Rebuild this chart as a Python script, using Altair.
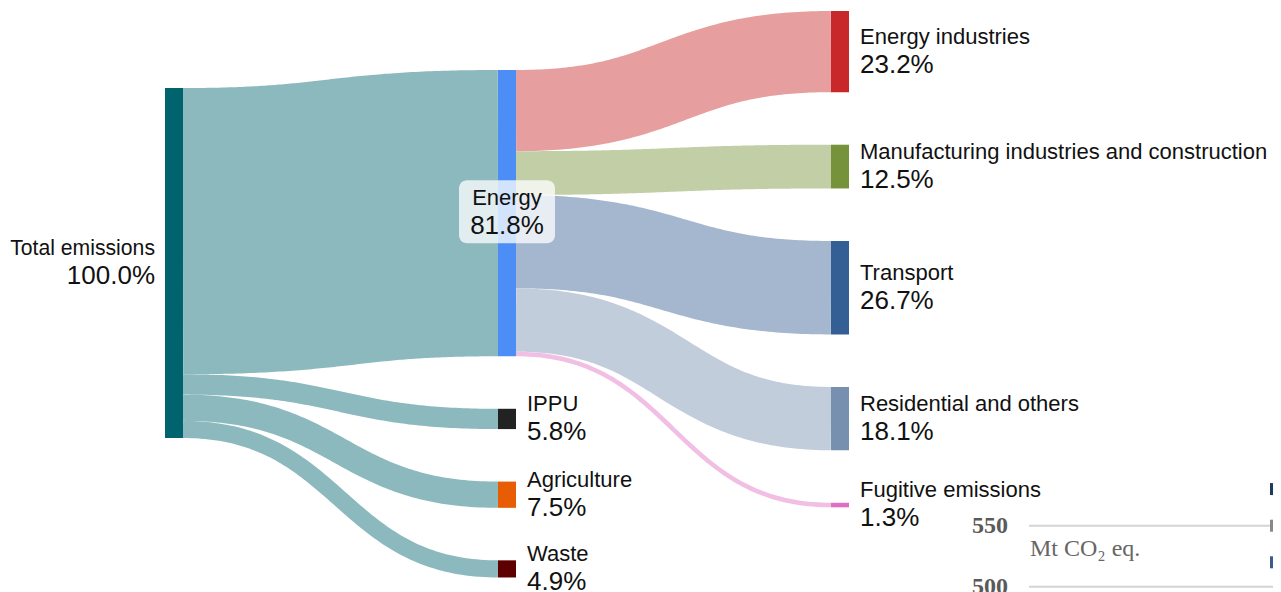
import altair as alt
import pandas as pd
import numpy as np

# ---------------- data ----------------
node_names = ["Total emissions", "Energy", "IPPU", "Agriculture", "Waste",
              "Energy industries", "Manufacturing industries and construction",
              "Transport", "Residential and others", "Fugitive emissions"]
node_values = [100.0, 81.8, 5.8, 7.5, 4.9, 23.2, 12.5, 26.7, 18.1, 1.3]

link_sources = ["Total emissions"] * 4 + ["Energy"] * 5
link_targets = ["Energy", "IPPU", "Agriculture", "Waste",
                "Energy industries", "Manufacturing industries and construction",
                "Transport", "Residential and others", "Fugitive emissions"]
link_values = [81.8, 5.8, 7.5, 4.9, 23.2, 12.5, 26.7, 18.1, 1.3]

# cropped neighbouring chart (bottom right)
grid_ticks = [550, 500]
unit_label = "Mt CO\u2082 eq."
swatch_levels = [580, 550, 520]

# ---------------- styles / layout ----------------
W, H = 1265, 584
PX = 3.5                      # pixels per percentage point
Y_MAX = H / PX
LEFT, STEP, NODE_W = 157, 333, 18
GAP = 15.0
COL_TOP = {0: 22.86, 1: 17.71, 2: 0.86}
FONT = "Liberation Sans"
NAME_SIZE, PCT_SIZE = 22, 26

node_colors = {
    "Total emissions": "#00636e", "Energy": "#4c8ef5", "IPPU": "#222222",
    "Agriculture": "#e85d04", "Waste": "#5e0000", "Energy industries": "#c8282a",
    "Manufacturing industries and construction": "#76923a", "Transport": "#345f94",
    "Residential and others": "#7890b0", "Fugitive emissions": "#e06fc4",
}
swatch_colors = ["#1c3a5e", "#888888", "#3b5b8c"]
LINK_ALPHA = 0.45


def blend(hexcol, a):
    r, g, b = (int(hexcol[i:i + 2], 16) for i in (1, 3, 5))
    return "#%02x%02x%02x" % tuple(round(255 - a * (255 - c)) for c in (r, g, b))


# columns
col = {n: 0 for n in node_names if n not in link_targets}
for s, t in zip(link_sources, link_targets):
    col[t] = col[s] + 1

# node positions
cursor = dict(COL_TOP)
y0, nx = {}, {}
for n, v in zip(node_names, node_values):
    c = col[n]
    y0[n] = cursor[c]
    cursor[c] += v + GAP
    nx[n] = LEFT + STEP * c

nodes_df = pd.DataFrame({
    "name": node_names,
    "value": node_values,
    "x": [nx[n] for n in node_names],
    "x2": [nx[n] + NODE_W for n in node_names],
    "y": [y0[n] for n in node_names],
    "y2": [y0[n] + v for n, v in zip(node_names, node_values)],
    "color": [node_colors[n] for n in node_names],
})
nodes_df["cy"] = (nodes_df["y"] + nodes_df["y2"]) / 2
nodes_df["pct"] = [f"{v:.1f}%" for v in node_values]

# link curves (d3-sankey style horizontal bezier, drawn as thick strokes)
out_off = {n: 0.0 for n in node_names}
in_off = {n: 0.0 for n in node_names}
rows = []
ts = np.linspace(0, 1, 101)
for i, (s, t, v) in enumerate(zip(link_sources, link_targets, link_values)):
    ys = y0[s] + out_off[s] + v / 2
    out_off[s] += v
    yt = y0[t] + in_off[t] + v / 2
    in_off[t] += v
    xa, xb = nx[s] + NODE_W, nx[t]
    xm = (xa + xb) / 2
    colr = blend(node_colors[s] if col[s] == 0 else node_colors[t], LINK_ALPHA)
    for k, tt in enumerate(ts):
        u = 1 - tt
        x = u ** 3 * xa + 3 * u * u * tt * xm + 3 * u * tt * tt * xm + tt ** 3 * xb
        y = ys * (u ** 3 + 3 * u * u * tt) + yt * (3 * u * tt * tt + tt ** 3)
        rows.append({"link": i, "k": k, "x": x, "y": y, "value": v, "color": colr})
links_df = pd.DataFrame(rows)

xs = alt.Scale(domain=[0, W], range=[0, W])
ysc = alt.Scale(domain=[0, Y_MAX], reverse=True)

links = alt.Chart(links_df).mark_line(strokeCap="butt").encode(
    x=alt.X("x:Q", scale=xs, axis=None),
    y=alt.Y("y:Q", scale=ysc, axis=None),
    size=alt.Size("value:Q", scale=alt.Scale(domain=[0, Y_MAX], range=[0, H]), legend=None),
    color=alt.Color("color:N", scale=None),
    detail="link:N",
    order="k:Q",
)

node_rects = alt.Chart(nodes_df).mark_rect().encode(
    x=alt.X("x:Q", scale=xs, axis=None), x2="x2:Q",
    y=alt.Y("y:Q", scale=ysc, axis=None), y2="y2:Q",
    color=alt.Color("color:N", scale=None),
)

has_out = set(link_sources)
has_in = set(link_targets)
left_df = nodes_df[[n not in has_in for n in node_names]].copy()
left_df["lx"] = left_df["x"] - 10
right_df = nodes_df[[n not in has_out for n in node_names]].copy()
right_df["lx"] = right_df["x2"] + 11
mid_df = nodes_df[[(n in has_in and n in has_out) for n in node_names]].copy()
mid_df["lx"] = (mid_df["x"] + mid_df["x2"]) / 2
mid_df["bx"] = mid_df["lx"] - 48
mid_df["bx2"] = mid_df["lx"] + 48
mid_df["by"] = mid_df["cy"] - 33 / PX
mid_df["by2"] = mid_df["cy"] + 30 / PX

box = alt.Chart(mid_df).mark_rect(fill="white", opacity=0.75, cornerRadius=8).encode(
    x=alt.X("bx:Q", scale=xs, axis=None), x2="bx2:Q",
    y=alt.Y("by:Q", scale=ysc, axis=None), y2="by2:Q",
)


def labels(df, align, name_size=NAME_SIZE):
    base = alt.Chart(df).encode(
        x=alt.X("lx:Q", scale=xs, axis=None),
        y=alt.Y("cy:Q", scale=ysc, axis=None),
    )
    name = base.mark_text(align=align, baseline="alphabetic", dy=-8, fontSize=name_size,
                          font=FONT, color="#111111").encode(text="name:N")
    pct = base.mark_text(align=align, baseline="alphabetic", dy=21, fontSize=PCT_SIZE,
                         font=FONT, color="#111111").encode(text="pct:N")
    return [name, pct]


sankey = alt.layer(links, node_rects, box,
                   *labels(left_df, "right", 21.2), *labels(right_df, "left"),
                   *labels(mid_df, "center"))

# ---------------- cropped neighbour chart ----------------
ys2 = alt.Scale(domain=[550 - (H - 517.7) * 50 / 61, 550 + 517.7 * 50 / 61])
grid_df = pd.DataFrame({"v": grid_ticks, "x": 1021, "x2": W, "lab": [str(g) for g in grid_ticks]})
grid = alt.Chart(grid_df).mark_rule(color="#d4d4d4", strokeWidth=2).encode(
    x=alt.X("x:Q", scale=xs, axis=None), x2="x2:Q",
    y=alt.Y("v:Q", scale=ys2, axis=None),
)
ticklab = alt.Chart(grid_df).mark_text(align="right", baseline="middle", fontSize=24,
                                        fontWeight="bold", font="Liberation Serif",
                                        color="#5a5a5a").encode(
    x=alt.value(1000), y=alt.Y("v:Q", scale=ys2, axis=None), text="lab:N")
unit_df = pd.DataFrame({"v": [grid_ticks[0]], "lab": [unit_label]})
unit = alt.Chart(unit_df).mark_text(align="left", baseline="alphabetic", dy=30, fontSize=24,
                                    font="Liberation Serif", color="#666666").encode(
    x=alt.value(1022), y=alt.Y("v:Q", scale=ys2, axis=None), text="lab:N")
sw_df = pd.DataFrame({"v": swatch_levels, "color": swatch_colors})
swatches = alt.Chart(sw_df).mark_square(size=144, opacity=1, filled=True).encode(
    x=alt.value(1268), y=alt.Y("v:Q", scale=ys2, axis=None),
    color=alt.Color("color:N", scale=None))

neighbour = alt.layer(grid, ticklab, unit, swatches)

chart = alt.layer(sankey, neighbour).resolve_scale(
    y="independent", size="independent", color="independent"
).properties(
    width=W, height=H, padding=0, autosize=alt.AutoSizeParams(type="none"),
    background="white",
).configure_view(strokeWidth=0)

chart.save("out.html", embed_options={"renderer": "svg", "actions": False})
